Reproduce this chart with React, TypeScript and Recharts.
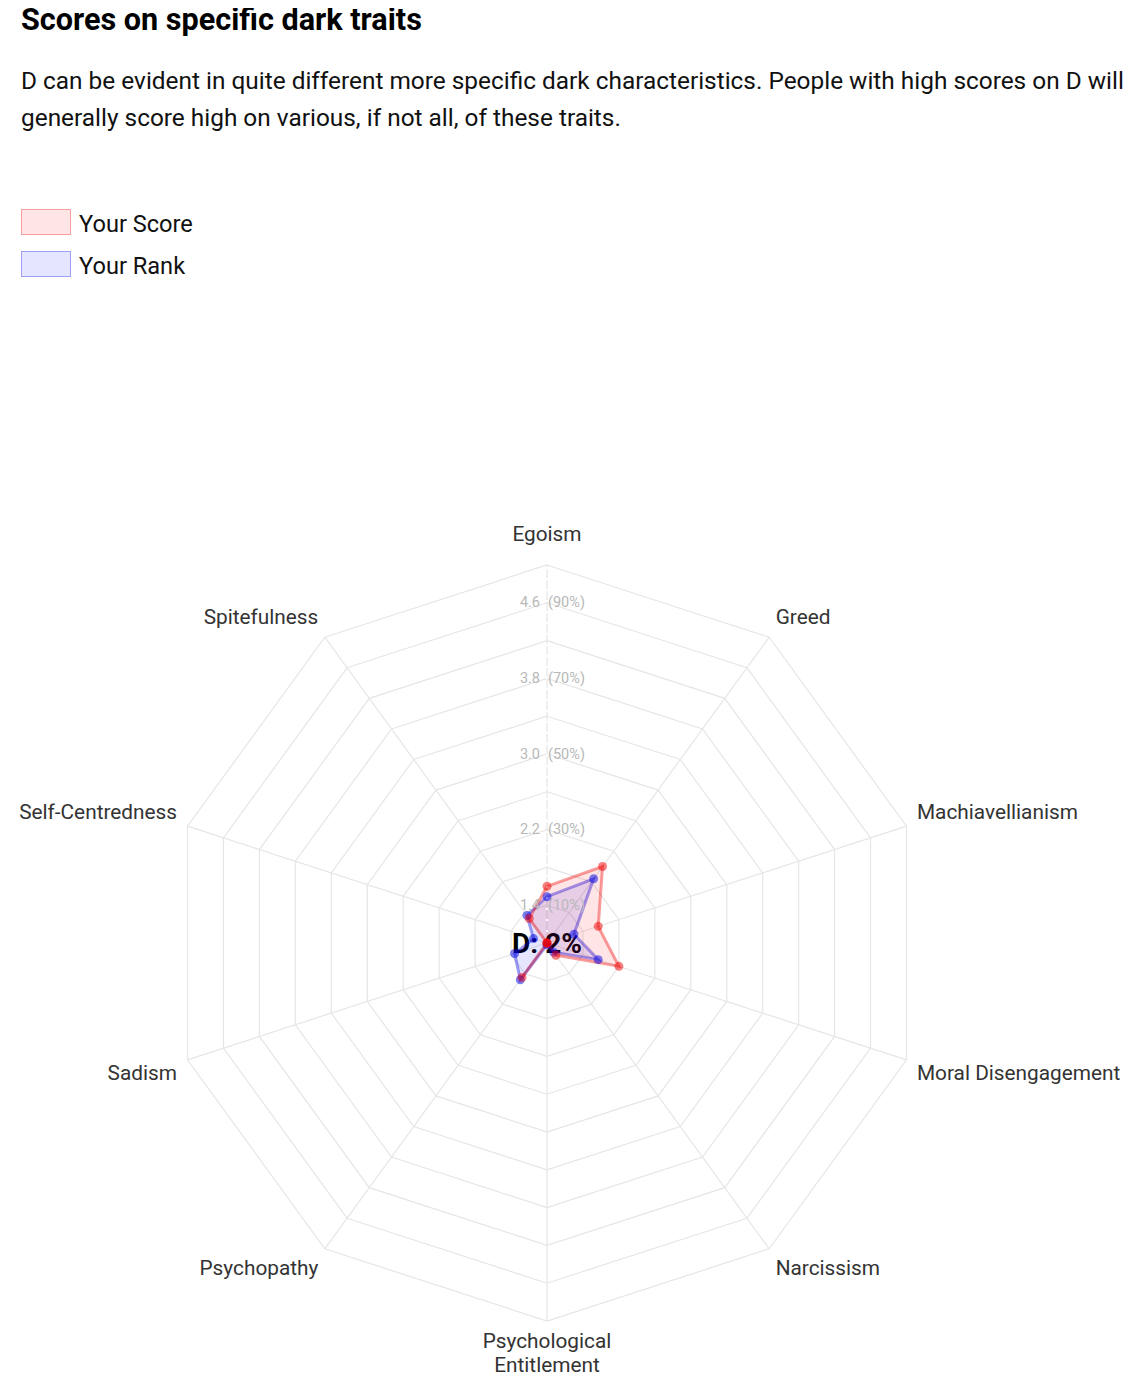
import React from 'react';
import { RadarChart, Radar, PolarGrid, PolarAngleAxis, PolarRadiusAxis } from 'recharts';

// traits clockwise from the top
const traits = [
  'Egoism',
  'Greed',
  'Machiavellianism',
  'Moral Disengagement',
  'Narcissism',
  'Psychological Entitlement',
  'Psychopathy',
  'Sadism',
  'Self-Centredness',
  'Spitefulness',
];

const yourScore = [1.6, 2.0, 1.57, 1.8, 1.16, 1.0, 1.45, 1.0, 1.0, 1.32];
const yourRank = [1.49, 1.84, 1.3, 1.57, 1.12, 1.02, 1.48, 1.36, 1.15, 1.36];

// rings every 0.4 from 1 to 5, labels on every other one
const gridTicks = [1, 1.4, 1.8, 2.2, 2.6, 3.0, 3.4, 3.8, 4.2, 4.6, 5];
const labelTicks = [1.4, 2.2, 3.0, 3.8, 4.6];
const labelPercents = ['10%', '30%', '50%', '70%', '90%'];
const centerText = 'D: 2%';

const data = traits.map((trait, i) => ({ trait, score: yourScore[i], rank: yourRank[i] }));

const FONT = 'Roboto, "Noto Sans", Arial, sans-serif';
const CHART_W = 1123;
const CHART_H = 940;
const CX = 539;
const CY = 493;
const R = 378;

function AngleTick(props: any) {
  const { payload } = props;
  const ang = (payload.coordinate * Math.PI) / 180;
  const cos = Math.cos(ang);
  const up = Math.sin(ang);
  const px = CX + (R + 11) * cos;
  const py = CY - (R + 11) * up;
  const anchor = cos > 0.01 ? 'start' : cos < -0.01 ? 'end' : 'middle';
  const lines: string[] = up < -0.99 ? String(payload.value).split(' ') : [String(payload.value)];
  let y0: number;
  if (up > 0.99) y0 = py - 20;
  else if (up < -0.99) y0 = py + 9;
  else y0 = py + (up > 0 ? -11 : 10);
  return (
    <g>
      {lines.map((line, i) => (
        <text
          key={i}
          x={px}
          y={y0 + i * 24}
          textAnchor={anchor}
          dominantBaseline="central"
          fontSize={20.8}
          fontFamily={FONT}
          fill="#333"
        >
          {line}
        </text>
      ))}
    </g>
  );
}

function RadiusTick(props: any) {
  const { x, y, payload } = props;
  const i = labelTicks.findIndex((t) => Math.abs(t - payload.value) < 1e-6);
  if (i < 0) return null;
  return (
    <g>
      <text x={x - 7} y={y} textAnchor="end" dominantBaseline="central" fontSize={14.5} fontFamily={FONT} fill="#b8b8b8">
        {labelTicks[i].toFixed(1)}
      </text>
      <text x={x + 1} y={y} textAnchor="start" dominantBaseline="central" fontSize={14.5} fontFamily={FONT} fill="#b8b8b8">
        ({labelPercents[i]})
      </text>
    </g>
  );
}

function LegendRow({ fill, border, label, top }: { fill: string; border: string; label: string; top: number }) {
  return (
    <div style={{ position: 'absolute', left: 13, top, display: 'flex', alignItems: 'center' }}>
      <div style={{ width: 48, height: 24, background: fill, border: `1px solid ${border}` }} />
      <span style={{ marginLeft: 8, marginTop: 4, fontSize: 23.6, color: '#111', lineHeight: '26px' }}>{label}</span>
    </div>
  );
}

export default function App() {
  return (
    <div style={{ position: 'relative', width: 1123, height: 1391, fontFamily: FONT }}>
      <div style={{ position: 'absolute', left: 13, top: -5, fontSize: 30.6, fontWeight: 700, lineHeight: '34px', color: '#000' }}>
        Scores on specific dark traits
      </div>
      <div style={{ position: 'absolute', left: 13, top: 54, width: 1110, fontSize: 24.4, lineHeight: '37px', color: '#111', whiteSpace: 'nowrap' }}>
        D can be evident in quite different more specific dark characteristics. People with high scores on D will
        <br />
        generally score high on various, if not all, of these traits.
      </div>
      <LegendRow top={199} fill="rgba(255,0,0,0.1)" border="rgba(230,0,0,0.3)" label="Your Score" />
      <LegendRow top={241} fill="rgba(0,0,255,0.1)" border="rgba(0,0,230,0.3)" label="Your Rank" />
      <div style={{ position: 'absolute', left: 0, top: 442 }}>
        <RadarChart width={CHART_W} height={CHART_H} data={data} cx={CX} cy={CY} outerRadius={R} margin={{ top: 0, right: 0, bottom: 0, left: 0 }}>
          <PolarGrid gridType="polygon" stroke="#e6e6e6" strokeWidth={1.2} />
          <PolarAngleAxis dataKey="trait" tick={AngleTick} tickLine={false} axisLine={false} />
          <PolarRadiusAxis
            angle={90}
            type="number"
            domain={[1, 5]}
            ticks={gridTicks as any}
            tickCount={11}
            tick={RadiusTick}
            axisLine={{ stroke: '#ffffff', strokeWidth: 2, strokeDasharray: '2 9' }}
            tickLine={false}
          />
          <Radar
            name="Your Rank"
            dataKey="rank"
            stroke="rgba(0,0,230,0.38)"
            strokeWidth={3}
            fill="rgba(0,0,255,0.1)"
            fillOpacity={1}
            dot={{ r: 4.5, fill: 'rgba(0,0,230,0.5)', stroke: 'none' }}
            isAnimationActive={false}
          />
          <Radar
            name="Your Score"
            dataKey="score"
            stroke="rgba(240,0,0,0.38)"
            strokeWidth={3}
            fill="rgba(255,0,0,0.1)"
            fillOpacity={1}
            dot={{ r: 4.5, fill: 'rgba(240,0,0,0.5)', stroke: 'none' }}
            isAnimationActive={false}
          />
          <text x={CX} y={CY} textAnchor="middle" dominantBaseline="central" fontSize={28} fontWeight={700} fontFamily={FONT} fill="#000">
            {centerText}
          </text>
        </RadarChart>
      </div>
    </div>
  );
}
